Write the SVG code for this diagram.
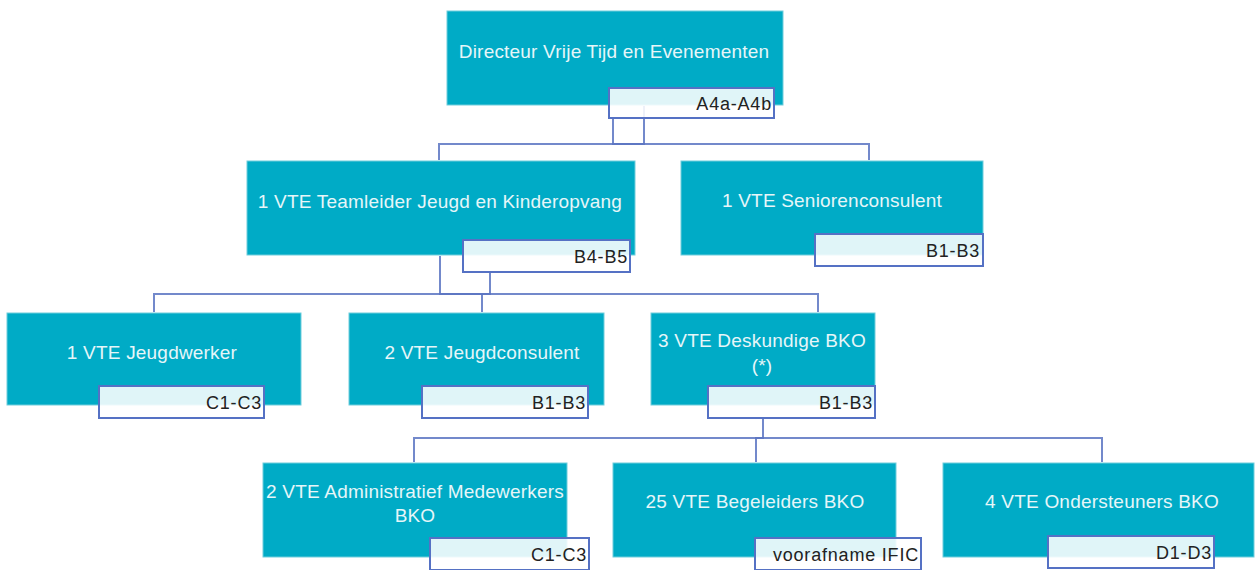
<svg xmlns="http://www.w3.org/2000/svg" width="1259" height="570" viewBox="0 0 1259 570">
<style>
.node{fill:#00abc6;stroke:#6fcddc;stroke-width:1}
.lbl{fill:#ffffff;fill-opacity:0.88;stroke:#5571c4;stroke-width:2}
.nt{font-family:"Liberation Sans",Arial,sans-serif;font-size:19px;letter-spacing:0.2px;fill:#e6f6f9;text-anchor:middle}
.lt{font-family:"Liberation Sans",Arial,sans-serif;font-size:18px;letter-spacing:0.8px;fill:#222222;text-anchor:end}
.conn{fill:none;stroke:#5a74c2;stroke-width:2;stroke-opacity:0.85}
</style>
<rect width="1259" height="570" fill="#ffffff"/>
<g id="connectors">
<path class="conn" d="M644,106 V144 H613 V119"/>
<path class="conn" d="M439,160 V144 H869 V160"/>
<path class="conn" d="M440,256 V294 H490 V273"/>
<path class="conn" d="M154,312 V294 H818 V312"/>
<path class="conn" d="M482,294 V312"/>
<path class="conn" d="M763,419 V438 H756 V462"/>
<path class="conn" d="M414,462 V438 H1102 V462"/>
</g>
<g id="n1">
<rect class="node" x="447" y="11" width="336" height="94"/>
<text class="nt" x="614" y="58">Directeur Vrije Tijd en Evenementen</text>
<rect class="lbl" x="609" y="88" width="165" height="30"/>
<text class="lt" x="772" y="110">A4a-A4b</text>
</g>
<g id="n2">
<rect class="node" x="247" y="161" width="388" height="94"/>
<text class="nt" x="440" y="208">1 VTE Teamleider Jeugd en Kinderopvang</text>
<rect class="lbl" x="463" y="240" width="167" height="32"/>
<text class="lt" x="628" y="263">B4-B5</text>
</g>
<g id="n3">
<rect class="node" x="681" y="161" width="302" height="94"/>
<text class="nt" x="832" y="207">1 VTE Seniorenconsulent</text>
<rect class="lbl" x="815" y="234" width="168" height="32"/>
<text class="lt" x="980" y="257">B1-B3</text>
</g>
<g id="n4">
<rect class="node" x="7" y="313" width="294" height="92"/>
<text class="nt" x="152" y="359">1 VTE Jeugdwerker</text>
<rect class="lbl" x="99" y="386" width="165" height="32"/>
<text class="lt" x="262" y="409">C1-C3</text>
</g>
<g id="n5">
<rect class="node" x="349" y="313" width="255" height="92"/>
<text class="nt" x="482" y="359">2 VTE Jeugdconsulent</text>
<rect class="lbl" x="422" y="386" width="166" height="32"/>
<text class="lt" x="586" y="409">B1-B3</text>
</g>
<g id="n6">
<rect class="node" x="651" y="313" width="224" height="92"/>
<text class="nt" x="762" y="347">3 VTE Deskundige BKO</text>
<text class="nt" x="762" y="372">(*)</text>
<rect class="lbl" x="708" y="386" width="167" height="32"/>
<text class="lt" x="873" y="409">B1-B3</text>
</g>
<g id="n7">
<rect class="node" x="263" y="463" width="304" height="94"/>
<text class="nt" x="415" y="498">2 VTE Administratief Medewerkers</text>
<text class="nt" x="415" y="522">BKO</text>
<rect class="lbl" x="430" y="538" width="159" height="32"/>
<text class="lt" x="587" y="561">C1-C3</text>
</g>
<g id="n8">
<rect class="node" x="613" y="463" width="283" height="94"/>
<text class="nt" x="755" y="508">25 VTE Begeleiders BKO</text>
<rect class="lbl" x="755" y="538" width="166" height="32"/>
<text class="lt" x="919" y="561">voorafname IFIC</text>
</g>
<g id="n9">
<rect class="node" x="943" y="463" width="311" height="94"/>
<text class="nt" x="1102" y="508">4 VTE Ondersteuners BKO</text>
<rect class="lbl" x="1048" y="536" width="166" height="32"/>
<text class="lt" x="1212" y="559">D1-D3</text>
</g>
</svg>
